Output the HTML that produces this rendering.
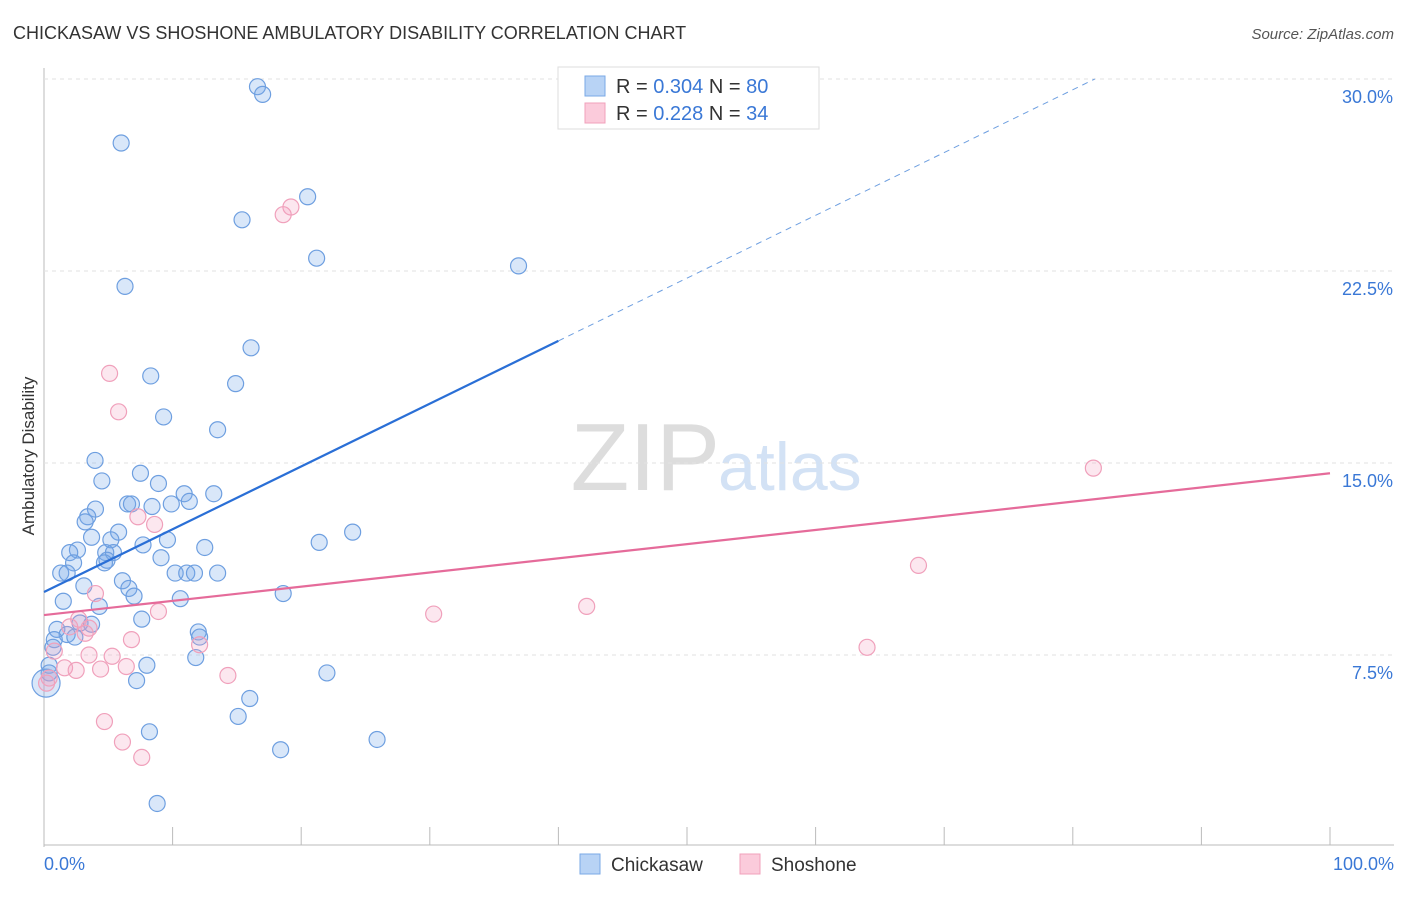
<!DOCTYPE html>
<html><head><meta charset="utf-8"><style>
body{margin:0;background:#fff;font-family:"Liberation Sans",sans-serif}
svg text{font-family:"Liberation Sans",sans-serif}
</style></head><body>
<svg id="c" width="1406" height="892" xmlns="http://www.w3.org/2000/svg">
<text x="13" y="39" font-size="18" fill="#333">CHICKASAW VS SHOSHONE AMBULATORY DISABILITY CORRELATION CHART</text>
<text x="1394" y="39" font-size="15" fill="#555" text-anchor="end" font-style="italic">Source: ZipAtlas.com</text>
<text x="720" y="490" font-size="96" fill="#ddd" text-anchor="end" font-family="Liberation Serif">ZIP</text>
<text x="718" y="490" font-size="68" fill="#d3e2f5">atlas</text>
<text transform="translate(34,456) rotate(-90)" font-size="17" fill="#333" text-anchor="middle">Ambulatory Disability</text>
<g id="grid"></g><g id="marks"></g>
<g>
<rect x="558" y="67" width="261" height="62" fill="#fff" stroke="#ddd"/>
<rect x="585" y="76" width="20" height="20" fill="#b8d3f5" stroke="#7aa8e6"/>
<rect x="585" y="103" width="20" height="20" fill="#fbcbdb" stroke="#f0a0bb"/>
<text x="616" y="93" font-size="20" fill="#333">R = <tspan fill="#3a78d6">0.304</tspan>   N = <tspan fill="#3a78d6">80</tspan></text>
<text x="616" y="120" font-size="20" fill="#333">R =  <tspan fill="#3a78d6">0.228</tspan>   N = <tspan fill="#3a78d6">34</tspan></text>
</g>
<g>
<rect x="580" y="854" width="20" height="20" fill="#b8d3f5" stroke="#7aa8e6"/>
<text x="611" y="871" font-size="19" fill="#333">Chickasaw</text>
<rect x="740" y="854" width="20" height="20" fill="#fbcbdb" stroke="#f0a0bb"/>
<text x="771" y="871" font-size="19" fill="#333">Shoshone</text>
</g>
</svg>
<script>
const yTicks=[7.5,15,22.5,30];
const yTickLabels=["7.5%","15.0%","22.5%","30.0%"];
const xTickVals=[0,10,20,30,40,50,60,70,80,90,100];
const blueX=[16.6,17.0,6.0,20.5,15.4,21.2,36.9,6.3,16.1,8.3,14.9,9.3,13.5,3.97,7.5,4.5,8.9,10.9,13.2,6.5,6.8,8.4,9.9,11.3,4.0,3.4,3.2,24.0,5.8,3.7,5.2,9.6,21.4,7.7,12.5,2.6,2.0,4.8,5.4,9.1,2.3,4.9,4.7,1.3,1.8,10.2,11.1,11.7,13.5,3.1,6.1,6.6,7.0,10.6,18.6,1.5,4.3,7.6,2.8,3.7,1.0,1.8,2.4,12.0,12.1,0.8,0.7,11.8,0.4,8.0,0.4,7.2,22.0,0.16,16.0,15.1,8.2,25.9,18.4,8.8];
const blueY=[29.7,29.4,27.5,25.4,24.5,23.0,22.7,21.9,19.5,18.4,18.1,16.8,16.3,15.1,14.6,14.3,14.2,13.8,13.8,13.4,13.4,13.3,13.4,13.5,13.2,12.9,12.7,12.3,12.3,12.1,12.0,12.0,11.9,11.8,11.7,11.6,11.5,11.5,11.5,11.3,11.1,11.2,11.1,10.7,10.7,10.7,10.7,10.7,10.7,10.2,10.4,10.1,9.8,9.7,9.9,9.6,9.4,8.9,8.75,8.7,8.5,8.3,8.2,8.4,8.2,8.1,7.8,7.4,7.1,7.1,6.8,6.5,6.8,6.4,5.8,5.1,4.5,4.2,3.8,1.7];
const pinkX=[19.2,18.6,5.1,5.8,81.6,7.3,8.6,68.0,42.2,4.0,30.3,8.9,2.7,2.0,3.5,3.2,6.8,12.1,64.0,0.8,3.5,5.3,1.6,2.5,4.4,6.4,14.3,0.4,0.2,4.7,6.1,7.6];
const pinkY=[25.0,24.7,18.5,17.0,14.8,12.9,12.6,11.0,9.4,9.9,9.1,9.2,8.9,8.6,8.55,8.35,8.1,7.9,7.8,7.65,7.5,7.45,7.0,6.9,6.95,7.05,6.7,6.6,6.4,4.9,4.1,3.5];
const blueTrend=[9.96,19.77];  // at x=0 and x=40
const pinkTrend=[9.06,14.6];   // at x=0 and x=100
const X=v=>44+v*12.86, Y=v=>847-v*25.6;
const NS="http://www.w3.org/2000/svg";
const g=document.getElementById('grid'), m=document.getElementById('marks');
function el(t,a,p){const e=document.createElementNS(NS,t);for(const k in a)e.setAttribute(k,a[k]);p.appendChild(e);return e;}
let e=el('line',{x1:44,y1:68,x2:44,y2:847,stroke:'#bbb'},g);


e=el('line',{x1:44,y1:845,x2:1394,y2:845,stroke:'#bbb'},g);


yTicks.forEach((v,i)=>{
 let l=el('line',{x1:44,y1:Y(v),x2:1394,y2:Y(v),stroke:'#e2e2e2','stroke-dasharray':'4,4'},g);
 
 
 let t=el('text',{x:1393,y:Y(v)+24,'font-size':18,fill:'#3a78d6','text-anchor':'end'},g);
 t.textContent=yTickLabels[i];
 
 
});
xTickVals.forEach(v=>{
 let l=el('line',{x1:X(v),y1:827,x2:X(v),y2:845,stroke:'#bbb'},g);
 
 
});
e=el('text',{x:44,y:870,'font-size':18,fill:'#3a78d6'},g);e.textContent='0.0%';


e=el('text',{x:1394,y:870,'font-size':18,fill:'#3a78d6','text-anchor':'end'},g);e.textContent='100.0%';


blueX.forEach((x,i)=>{
 let c=el('circle',{cx:X(x),cy:Y(blueY[i]),r:(i==73?14:8),fill:'rgba(120,170,235,0.28)',stroke:'#6e9fe0','stroke-width':1.2},m);
 
 
});
pinkX.forEach((x,i)=>{
 let c=el('circle',{cx:X(x),cy:Y(pinkY[i]),r:8,fill:'rgba(245,160,190,0.25)',stroke:'#f0a0bb','stroke-width':1.2},m);
 
 
});
const bs=(blueTrend[1]-blueTrend[0])/40;
e=el('line',{x1:X(0),y1:Y(blueTrend[0]),x2:X(40),y2:Y(blueTrend[1]),stroke:'#2a6fd6','stroke-width':2.2},m);


const xe=(30-blueTrend[0])/bs;
e=el('line',{x1:X(40),y1:Y(blueTrend[1]),x2:X(xe),y2:Y(30),stroke:'#6e9fe0','stroke-width':1,'stroke-dasharray':'6,5'},m);


e=el('line',{x1:X(0),y1:Y(pinkTrend[0]),x2:X(100),y2:Y(pinkTrend[1]),stroke:'#e56b9a','stroke-width':2.2},m);


</script>
</body></html>
